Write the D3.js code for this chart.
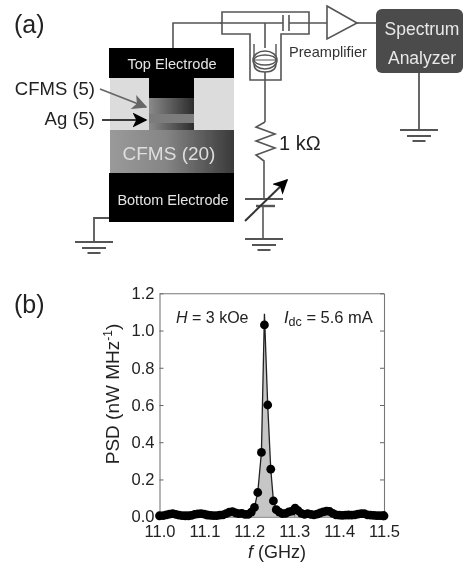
<!DOCTYPE html>
<html><head><meta charset="utf-8">
<script src="https://cdn.jsdelivr.net/npm/d3@7"></script>
<style>html,body{margin:0;padding:0;background:#fff}svg{display:block;font-family:"Liberation Sans",Arial,sans-serif}</style>
</head><body><svg id="c" width="463" height="566"></svg>
<script>
const freq=[11.000,11.0084,11.0154,11.0224,11.0294,11.0364,11.0434,11.0504,11.0574,11.0644,11.0714,11.0784,11.0854,11.0924,11.0994,11.1064,11.1134,11.1204,11.1274,11.1344,11.1414,11.1484,11.1554,11.1624,11.1694,11.1764,11.1834,11.1904,11.1974,11.2044,11.2114,11.2188,11.227,11.2337,11.241,11.2478,11.2537,11.260,11.267,11.274,11.281,11.288,11.295,11.302,11.309,11.316,11.323,11.330,11.337,11.344,11.351,11.358,11.365,11.372,11.379,11.386,11.393,11.400,11.407,11.414,11.421,11.428,11.435,11.442,11.449,11.456,11.463,11.470,11.477,11.484,11.491,11.498,11.500];
const psd=[0.005,0.006,0.010,0.014,0.016,0.012,0.008,0.006,0.005,0.005,0.007,0.012,0.015,0.016,0.014,0.009,0.007,0.006,0.006,0.008,0.010,0.017,0.024,0.027,0.020,0.016,0.018,0.012,0.012,0.025,0.050,0.130,0.345,1.030,0.600,0.255,0.085,0.038,0.025,0.016,0.018,0.026,0.030,0.046,0.032,0.018,0.012,0.016,0.012,0.010,0.014,0.020,0.026,0.030,0.028,0.018,0.010,0.008,0.007,0.008,0.009,0.008,0.010,0.014,0.017,0.016,0.010,0.008,0.007,0.006,0.006,0.005,0.005];
const peakLineTop=1.09;
const xTicks=[11.0,11.1,11.2,11.3,11.4,11.5];
const yTicks=[0,0.2,0.4,0.6,0.8,1.0,1.2];
const peakIndex=psd.indexOf(d3.max(psd));
const linePsd=psd.map((v,i)=>i===peakIndex?peakLineTop:v);

const svg=d3.select('#c');
const defs=svg.append('defs');
defs.append('filter').attr('id','soft').append('feGaussianBlur').attr('stdDeviation',0.5);
function grad(id,stops){const g=defs.append('linearGradient').attr('id',id);stops.forEach(([o,c])=>g.append('stop').attr('offset',o).attr('stop-color',c));}
grad('g20',[[0,'#9a9a9a'],[0.45,'#858585'],[1,'#3a3a3a']]);
grad('g5',[[0,'#8a8a8a'],[1,'#2c2c2c']]);
function arrowMarker(id,c){const m=defs.append('marker').attr('id',id).attr('viewBox','0 0 10 10').attr('refX',9).attr('refY',5).attr('markerWidth',15).attr('markerHeight',15).attr('markerUnits','userSpaceOnUse').attr('orient','auto');
m.append('path').attr('d','M0,0L10,5L0,10L2.5,5Z').attr('fill',c);}
arrowMarker('ah','#000');arrowMarker('ah2','#666');

const root=svg.append('g').attr('filter','url(#soft)');
const WIRE='#555';
function rect(x,y,w,h,f,r){return root.append('rect').attr('x',x).attr('y',y).attr('width',w).attr('height',h).attr('fill',f).attr('rx',r||0);}
function path(d,s,w,f){return root.append('path').attr('d',d).attr('stroke',s||WIRE).attr('stroke-width',w||1.6).attr('fill',f||'none');}
function text(t,x,y,size,fill,anchor){return root.append('text').attr('x',x).attr('y',y).attr('font-size',size).attr('fill',fill||'#222').attr('text-anchor',anchor||'start').text(t);}
function ground(x,y){path(`M${x-19},${y}H${x+19}`,WIRE,2);path(`M${x-12},${y+6}H${x+12}`,WIRE,2);path(`M${x-6.5},${y+11}H${x+6.5}`,WIRE,2);}

/* panel (a) */
text('(a)',14,33,25);
path('M173,48V23H222');
path('M222,12H309V34H281V80H250V34H222Z');
path('M220,23H283M289,23H327');
path('M283,15V31M289,15V31');
path('M265,23V48M265,72V122');
path('M254,44V64Q254,72 265,72Q276,72 276,64V44',WIRE,1.4);
root.append('ellipse').attr('cx',265).attr('cy',60).attr('rx',12).attr('ry',9).attr('fill','#fff').attr('stroke',WIRE).attr('stroke-width',1.6);
root.append('ellipse').attr('cx',265).attr('cy',60).attr('rx',11).attr('ry',5).attr('fill','none').attr('stroke',WIRE).attr('stroke-width',1.3);
path('M265,60H254M265,60H276',WIRE,1);
path('M327,6L357,23L327,39Z',WIRE,1.6,'#fff');
path('M357,23H377');
rect(376,9,87,64,'#4b4b4b',6);
text('Spectrum',422,35,17.5,'#e8e8e8','middle');
text('Analyzer',422,64,17.5,'#e8e8e8','middle');
text('Preamplifier',289,57,14.6,'#333');
path('M419,73V130',WIRE,1.8);ground(419,130);
path('M265,122L256,127L275,134L256,141L275,148L256,155L264,161V199',WIRE,1.6);
text('1 kΩ',279,150,20,'#222');
path('M245,199H283',WIRE,2);path('M256,206H275',WIRE,2.4);
path('M263,206V238',WIRE,1.6);ground(264,239);
path('M245,221L287,180',"#333",2).attr('marker-end','url(#ah)');

rect(109,48,125,30,'#000');
rect(110,78,39,52,'#dcdcdc');rect(194,78,40,52,'#dcdcdc');
rect(149,78,45,20,'#000');
rect(149,98,45,16,'url(#g5)');
rect(149,114,45,9,'#7c7c7c');
rect(149,123,45,7,'url(#g5)');
rect(110,130,124,43,'url(#g20)');
rect(109,173,125,49,'#000');
text('Top Electrode',172,69,14.6,'#e4e4e4','middle');
text('CFMS (20)',169,160,19,'#dedede','middle');
text('Bottom Electrode',173,205,14.5,'#e4e4e4','middle');
text('CFMS (5)',95,95,18.5,'#222','end');
text('Ag (5)',95,125,18.5,'#222','end');
path('M100,89L146,107','#666',1.8).attr('marker-end','url(#ah2)');
path('M102,120H146','#000',1.6).attr('marker-end','url(#ah)');
path('M109,218H94V241',WIRE,1.8);ground(94,242);

/* panel (b) */
text('(b)',14,313,25);
const x=d3.scaleLinear().domain([11.0,11.5]).range([159.5,384]);
const y=d3.scaleLinear().domain([0,1.2]).range([516.7,293.3]);
const pts=freq.map((f,i)=>({f,v:psd[i],lv:linePsd[i]}));
const area=d3.area().x(d=>x(d.f)).y0(y(0)).y1(d=>y(d.lv));
const line=d3.line().x(d=>x(d.f)).y(d=>y(d.lv));
root.append('path').datum(pts).attr('d',area).attr('fill','#c6c6c6');
root.append('path').datum(pts).attr('d',line).attr('fill','none').attr('stroke','#222').attr('stroke-width',1.3);
const ax=root.append('g');
function styleAxis(g){g.select('.domain').attr('stroke','#777').attr('stroke-width',1.1);g.selectAll('.tick line').attr('stroke','#666');g.selectAll('text').attr('fill','#222').attr('font-size',16.5).attr('font-family','"Liberation Sans",Arial,sans-serif');}
ax.append('g').attr('transform',`translate(0,${y(0)})`).call(d3.axisBottom(x).tickValues(xTicks).tickFormat(d3.format('.1f')).tickSize(-4).tickSizeOuter(0).tickPadding(9)).call(styleAxis);
ax.append('g').attr('transform',`translate(${x(11.0)},0)`).call(d3.axisLeft(y).tickValues(yTicks).tickFormat(d3.format('.1f')).tickSize(-4).tickSizeOuter(0).tickPadding(5)).call(styleAxis);
ax.append('g').attr('transform',`translate(0,${y(1.2)})`).call(d3.axisTop(x).tickValues([]).tickSizeOuter(0)).call(styleAxis);
ax.append('g').attr('transform',`translate(${x(11.5)},0)`).call(d3.axisRight(y).tickValues(yTicks).tickFormat('').tickSize(-4).tickSizeOuter(0)).call(styleAxis);
root.append('g').selectAll('circle').data(pts).join('circle').attr('cx',d=>x(d.f)).attr('cy',d=>y(d.v)).attr('r',4.4).attr('fill','#000');

const t1=root.append('text').attr('x',176).attr('y',323).attr('font-size',16).attr('fill','#222');
t1.append('tspan').attr('font-style','italic').text('H');t1.append('tspan').text(' = 3 kOe');
const t2=root.append('text').attr('x',284).attr('y',323).attr('font-size',16.5).attr('fill','#222');
t2.append('tspan').attr('font-style','italic').text('I');t2.append('tspan').attr('font-size',12.5).attr('dy',3).text('dc');t2.append('tspan').attr('dy',-3).text(' = 5.6 mA');
const t3=root.append('text').attr('transform','translate(119,394) rotate(-90)').attr('text-anchor','middle').attr('font-size',19).attr('fill','#222');
t3.append('tspan').text('PSD (nW MHz');t3.append('tspan').attr('font-size',12).attr('dy',-7).text('-1');t3.append('tspan').attr('dy',7).text(')');
const t4=root.append('text').attr('x',277).attr('y',558).attr('text-anchor','middle').attr('font-size',18).attr('fill','#222');
t4.append('tspan').attr('font-style','italic').text('f');t4.append('tspan').text(' (GHz)');
</script></body></html>
